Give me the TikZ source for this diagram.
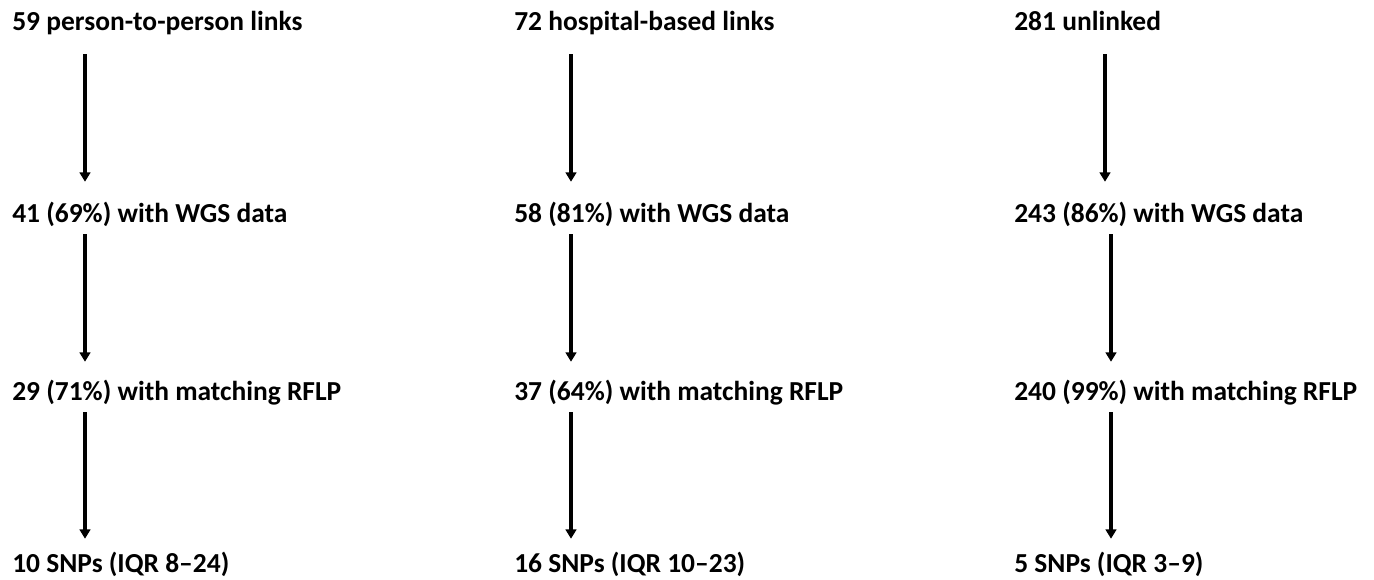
\documentclass[tikz,border=0pt]{standalone}
\usepackage{fontspec}
\setmainfont{Carlito}
\usetikzlibrary{arrows.meta}

\tikzset{
  txt/.style={anchor=base west, inner sep=0pt, text height=15pt, text depth=4.5pt,
    font=\fontsize{20.6}{24}\selectfont\bfseries},
  flow/.style={line width=2.3pt, -{Triangle[width=8pt,length=7pt]}}
}

\begin{document}
\begin{tikzpicture}[x=0.75pt,y=0.75pt,yscale=-1,xscale=1]
\path[use as bounding box] (0,0) rectangle (1374,580);

%x of the arrows
\coordinate (ca) at (85,0);
\coordinate (cb) at (571,0);
\coordinate (cc) at (1105,0);
\coordinate (cd) at (1111,0);

% Text Node
\node[txt] (p1) at (12,31) {59 person-to-person links};
% Text Node
\node[txt] (p2) at (12,223) {41 (69\%) with WGS data};
% Text Node
\node[txt] (p3) at (12,401) {29 (71\%) with matching RFLP};
% Text Node
\node[txt] (p4) at (12,572) {10 SNPs (IQR 8–24)};

% Text Node
\node[txt] (h1) at (514,31) {72 hospital-based links};
% Text Node
\node[txt] (h2) at (514,223) {58 (81\%) with WGS data};
% Text Node
\node[txt] (h3) at (514,401) {37 (64\%) with matching RFLP};
% Text Node
\node[txt] (h4) at (514,572) {16 SNPs (IQR 10–23)};

% Text Node
\node[txt] (u1) at (1014,31) {281 unlinked};
% Text Node
\node[txt] (u2) at (1014,223) {243 (86\%) with WGS data};
% Text Node
\node[txt] (u3) at (1014,401) {240 (99\%) with matching RFLP};
% Text Node
\node[txt] (u4) at (1014,572) {5 SNPs (IQR 3–9)};

%Straight Lines
\draw[flow, shorten <=12.75pt, shorten >=15.75pt] (p1.south -| ca) -- (p2.north -| ca);
\draw[flow, shorten <=3.75pt, shorten >=14.25pt] (p2.south -| ca) -- (p3.north -| ca);
\draw[flow, shorten <=3.75pt, shorten >=9.75pt] (p3.south -| ca) -- (p4.north -| ca);

\draw[flow, shorten <=12.75pt, shorten >=15.75pt] (h1.south -| cb) -- (h2.north -| cb);
\draw[flow, shorten <=3.75pt, shorten >=14.25pt] (h2.south -| cb) -- (h3.north -| cb);
\draw[flow, shorten <=3.75pt, shorten >=9.75pt] (h3.south -| cb) -- (h4.north -| cb);

\draw[flow, shorten <=12.75pt, shorten >=15.75pt] (u1.south -| cc) -- (u2.north -| cc);
\draw[flow, shorten <=3.75pt, shorten >=14.25pt] (u2.south -| cd) -- (u3.north -| cd);
\draw[flow, shorten <=3.75pt, shorten >=9.75pt] (u3.south -| cd) -- (u4.north -| cd);
\end{tikzpicture}
\end{document}
